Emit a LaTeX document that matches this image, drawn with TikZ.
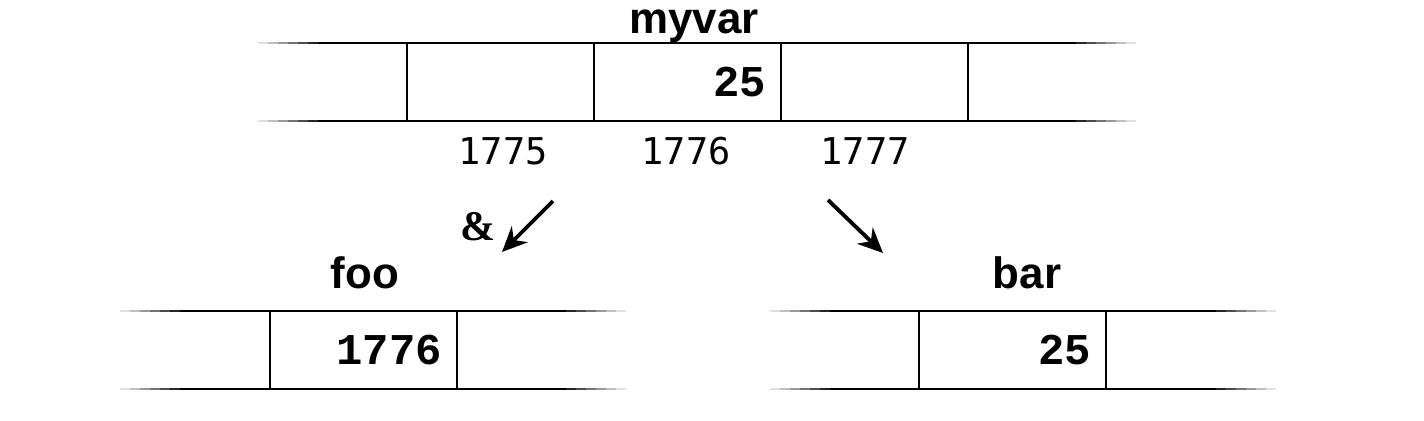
\documentclass[tikz,border=0pt]{standalone}
\usepackage{fontspec}
\newfontfamily\namefont{Liberation Sans}
\newfontfamily\numfont{DejaVu Sans Mono}
\newfontfamily\valfont{Liberation Mono}
\newfontfamily\ampfont{Liberation Serif}
\usetikzlibrary{arrows.meta,positioning}

\tikzset{
  cell/.style={draw, line width=1.3pt, minimum width=3.74cm, minimum height=1.56cm,
    inner xsep=0.3cm, text width=3.14cm, align=right, outer sep=0pt,
    font=\valfont\bfseries\fontsize{25}{28}\selectfont},
  varname/.style={anchor=base, inner sep=0pt, font=\namefont\bfseries\fontsize{25}{28}\selectfont},
  addr/.style={anchor=base, font=\numfont\fontsize{21}{24}\selectfont},
  pointer/.style={line width=2.2pt, -{Stealth[length=0.5cm,width=0.45cm]}}
}

% a rail that fades out towards its two ends
\newcommand{\rail}[3]{%
  \foreach \g/\d in {12/0,25/10,40/20,55/30,70/40,85/50,100/60} {
    \draw[black!\g, line width=1.3pt] (#1+\d,#3) -- (#2-\d,#3);
  }
}

\begin{document}
\begin{tikzpicture}[x=0.02cm, y=-0.02cm]
\useasboundingbox (0,0) rectangle (1424,420);

% myvar in memory
\rail{258}{1136}{43}
\rail{258}{1136}{121}
\node[cell] (c1775) at (500.5,82) {};
\node[cell, right=0pt of c1775] (c1776) {25};
\node[cell, right=0pt of c1776] (c1777) {};
\node[varname] (myvar) at (694,33) {myvar};
\foreach \a/\x in {1775/503,1776/686,1777/865} {
    \node[addr] (a\a) at (\x,164) {\a};
}

% foo
\rail{120}{626}{311}
\rail{120}{626}{389}
\node[cell] (foocell) at (363.5,350) {1776};
\node[varname] (foo) at (365,288) {foo};

% bar
\rail{770}{1276}{311}
\rail{770}{1276}{389}
\node[cell] (barcell) at (1012.5,350) {25};
\node[varname] (bar) at (1027,288) {bar};

% the two pointers
\coordinate (refstart) at (553,201);
\coordinate (refend) at (502,252);
\coordinate (valstart) at (828,200);
\coordinate (valend) at (883,253);
\draw[pointer] (refstart) -- (refend);
\draw[pointer] (valstart) -- (valend);
\node[font=\ampfont\bfseries\fontsize{24}{28}\selectfont] (amp) at (478,227) {\&};
\end{tikzpicture}
\end{document}
